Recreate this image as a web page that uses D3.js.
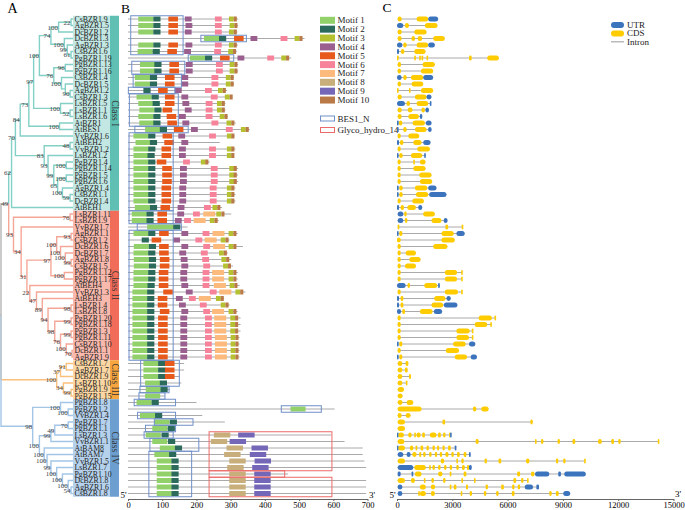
<!DOCTYPE html>
<html><head><meta charset="utf-8">
<script src="https://cdn.jsdelivr.net/npm/d3@7"></script>
<style>body{margin:0;background:#fff}svg text{font-family:"Liberation Serif","Times New Roman",serif}</style>
</head><body><svg id="c" width="685" height="510"></svg>
<script>
// ---------------- DATA ----------------
const genes = ["CsBZR1.9","AgBZR1.5","DcBZR1.2","DcBZR1.3","AgBZR1.3","CsBZR1.6","PgBZR1.19","PgBZR1.13","PgBZR1.16","CsBZR1.4","DcBZR1.5","AgBZR1.2","CsBZR1.3","LsBZR1.5","LsBZR1.1","LsBZR1.6","AtBZR1","AtBES1","VvBZR1.6","AtBEH2","VvBZR1.2","LsBZR1.2","PgBZR1.4","PgBZR1.14","PgBZR1.5","PgBZR1.6","AgBZR1.4","CsBZR1.1","DcBZR1.4","AtBEH1",
"LsBZR1.11","LsBZR1.9","VvBZR1.7","AgBZR1.1","CsBZR1.2","DcBZR1.6","DcBZR1.7","AgBZR1.8","CsBZR1.5","PgBZR1.12","PgBZR1.17","AtBEH4","VvBZR1.3","AtBEH3","LsBZR1.4","LsBZR1.8","PgBZR1.20","PgBZR1.18","PgBZR1.3","PgBZR1.11","CsBZR1.10","DcBZR1.1","AgBZR1.9",
"CsBZR1.7","AgBZR1.7","DcBZR1.9","LsBZR1.10","PgBZR1.9","PgBZR1.15",
"PgBZR1.8","PgBZR1.2","VvBZR1.4","PgBZR1.7","PgBZR1.1","LsBZR1.3","VvBZR1.1","AtBAM8","AtBAM7","VvBZR1.5","LsBZR1.7","PgBZR1.10","DcBZR1.8","AgBZR1.6","CsBZR1.8"];
const classNames = ["Class I","Class II","Class III","Class IV"];
const classSizes = [30,23,6,15];

// tree: T(depth, bootstrap, children); leaves = row numbers (1-based)
const T = (d,bs,c)=>({d,bs,c});
const treeData = T(0,null,[
  T(8,49,[
    T(11,62,[
      T(15,70,[
        T(20,84,[
          T(29,73,[
            T(34,97,[
              T(40,100,[
                T(52,74,[
                  T(60,100,[T(73,22,[1,2]),3]),
                  T(66,100,[4,T(69,99,[5,T(73,61,[6,7])])])
                ]),
                T(55,76,[
                  T(67,96,[8,9]),
                  T(63,100,[10,T(67,null,[11,T(72,90,[12,13])])])
                ])
              ]),
              T(62,100,[14,T(72,52,[15,16])])
            ]),
            T(61,100,[17,18])
          ]),
          19
        ]),
        T(45,83,[
          T(72,48,[20,21]),
          T(49,93,[22,T(55,99,[T(68,100,[23,24]),T(59,65,[T(68,100,[25,26]),T(64,100,[27,T(72,59,[28,29])])])])])
        ])
      ]),
      30
    ]),
    T(13,93,[
      T(72,76,[31,32]),
      T(21,34,[
        33,
        T(27,31,[
          T(52,97,[
            T(58,100,[T(73,93,[34,35]),T(62,100,[36,T(67,100,[37,T(73,99,[38,39])])])]),
            T(66,100,[40,41])
          ]),
          T(30,22,[42,T(37,47,[43,T(43,89,[44,T(49,94,[T(73,98,[45,46]),T(56,98,[T(73,99,[47,48]),T(62,76,[T(73,99,[49,50]),T(68,100,[51,T(74,70,[52,53])])])])])])])])
        ])
      ])
    ])
  ]),
  T(58,100,[T(62,37,[T(68,91,[54,55]),56]),T(65,34,[57,T(73,99,[58,59])])]),
  T(33,98,[
    T(62,100,[60,T(70,100,[61,62])]),
    T(40,100,[
      T(52,99,[T(56,49,[T(70,70,[63,64]),65]),66]),
      T(45,100,[67,T(48,100,[68,T(52,99,[69,T(58,100,[70,T(64,100,[71,T(70,100,[72,T(73,54,[73,74])])])])])])])
    ])
  ])
]);

// Panel B: protein lengths (aa) and motifs [motif, start(, length)]
const motifNames = ["Motif 1","Motif 2","Motif 3","Motif 4","Motif 5","Motif 6","Motif 7","Motif 8","Motif 9","Motif 10"];
const motifLen = [44,21,14,20,28,20,35,48,48,9];
const protLen = [322,322,320,516,322,318,477,322,322,310, 310,290,300,285,285,292,315,356,312,268,
 314,308,239,322,322,322,314,314,314,275, 302,265,174,321,297,336,292,302,307,321,
 321,326,343,281,297,320,329,329,329,326, 326,326,326,164,164,150,156,122,108,200,
 604,217,283,139,594,633,686,686,691,696, 468,696,696,696];
const mA = [[1,30],[2,74],[5,118],[4,166],[6,254],[3,295],[10,309]];
const mPg = [[1,35],[2,77],[5,121],[4,169],[6,257],[3,297],[10,311]];
const mCs4 = [[1,20],[2,64],[5,108],[4,156],[6,244],[3,286],[10,300]];
const mPg14 = [[1,16],[2,59],[5,100],[4,152],[6,242],[3,296],[10,309]];
const mAg4 = [[1,16],[2,59],[5,98],[4,150],[6,239],[3,289],[10,302]];
const mPg12 = [[1,16],[2,59],[5,90],[4,153],[6,218],[7,246],[3,294],[10,308]];
const mPg20 = [[1,13],[2,56],[5,88],[4,153],[6,225],[7,252],[3,299],[10,313]];
const mPg11 = [[1,13],[2,56],[5,88],[4,153],[6,225],[7,254],[3,300],[10,314]];
const mIII = [[1,45],[2,88],[5,108]];
const mIV = [[1,84],[2,127],[8,296],[9,369]];
const motifs = [
 mA,[[1,30],[2,74],[5,118],[4,168],[6,254],[3,297],[10,311]],mA,
 [[1,222],[2,266],[5,310],[4,358],[6,446],[3,487],[10,501]],
 [[1,30],[2,74],[5,118],[4,168],[6,254],[3,295],[10,309]],
 [[1,28],[2,72],[5,115],[4,164],[6,252],[3,293],[10,307]],
 [[1,181],[2,225],[5,269],[4,320],[6,407],[3,448],[10,462]],
 mPg,mPg,mCs4,mCs4,
 [[2,45],[5,88],[4,137],[6,225],[3,263],[10,277]],
 [[1,25],[2,69],[5,108],[4,156],[6,242],[3,283],[10,297]],
 [[1,30],[2,72],[5,108],[4,159],[6,227],[3,260],[10,274]],
 [[1,33],[2,77],[5,101],[4,166],[6,227],[3,260],[10,274]],
 [[1,30],[2,74],[5,113],[4,149],[6,227],[3,268],[10,282]],
 [[1,33],[2,74],[5,115],[4,159],[6,244],[3,288],[10,302]],
 [[1,50],[2,93],[5,134],[4,184],[6,286],[3,330],[10,344]],
 [[1,16],[2,59],[5,101],[4,147],[6,237],[3,289],[10,302]],
 [[1,22],[2,64],[5,106],[4,156]],
 [[1,16],[2,59],[5,98],[4,149],[6,237],[3,289],[10,302]],
 [[1,16],[2,57],[5,98],[4,149],[6,237],[3,289],[10,302]],
 [[1,16],[2,59],[5,84],[6,161],[3,213],[10,226]],
 mPg14,mPg14,mPg14,mAg4,mAg4,mAg4,
 [[1,20],[2,64],[5,95],[4,145],[6,222],[3,247],[10,261]],
 [[1,11],[2,54],[5,86],[4,144],[6,190],[7,220],[3,258],[10,273]],
 [[1,11],[2,54],[5,86],[4,137],[6,164],[7,192],[3,239],[10,253]],
 [[1,56,76],[2,132]],
 [[1,16],[2,59],[5,91],[4,156],[6,218],[7,247],[3,294],[10,308]],
 [[2,40],[5,69],[4,132],[6,197],[7,224],[3,271],[10,285]],
 [[1,17],[2,61],[5,91],[4,156],[6,220],[7,249],[3,294],[10,308]],
 [[1,16],[2,59],[5,91],[4,150],[6,213],[3,266],[10,280]],
 [[1,17],[2,61],[5,93],[4,154],[6,217],[3,273],[10,287]],
 [[1,17],[2,61],[5,93],[4,156],[6,220],[3,278],[10,292]],
 mPg12,mPg12,
 [[1,16],[2,57],[5,90],[4,156],[6,218],[7,251],[3,297],[10,311]],
 [[1,13],[2,56],[5,103],[4,169],[6,239],[7,267],[3,314],[10,328]],
 [[1,13],[2,56],[5,87],[4,140],[6,178],[7,207],[3,257],[10,271]],
 [[1,13],[2,56],[5,87],[4,149],[6,210],[3,271],[10,285]],
 [[1,13],[2,56],[5,93],[4,156],[6,220],[7,246],[3,294],[10,308]],
 mPg20,mPg20,mPg20,mPg11,mPg11,mPg11,mPg11,
 mIII,mIII,mIII,[[1,50],[2,93]],[[1,52],[2,95]],[[1,50]],
 [[1,25],[2,69]],[[1,475]],[[1,35],[2,79]],[[1,77],[2,122]],[[1,71],[2,116]],
 [[1,52],[2,98],[8,251],[9,322]],[[1,71],[2,117],[8,242],[9,297]],
 [[1,93],[2,137],[8,288],[9,361]],[[1,77],[2,120],[8,281],[9,356]],
 [[1,84],[2,127],[8,296],[9,370]],[[1,84],[2,127],[8,290],[9,363]],
 mIV,mIV,mIV,mIV
];
// domains: [firstRow, lastRow, start, end]
const domainNames = ["BES1_N","Glyco_hydro_14"];
const bes1 = [[1,6,8,161],[4,4,213,346],[7,7,176,309],[8,9,11,166],[10,11,15,156],[12,12,1,137],[13,17,4,147],[18,18,20,176],[19,30,3,132],[31,32,3,132],[33,33,27,156],[34,53,3,132],[54,57,37,150],[58,58,35,120],[59,59,32,108],[60,60,18,139],[61,61,448,565],[62,62,28,139],[63,63,77,190],[64,64,51,139],[65,65,47,132],[66,67,64,207],[68,74,61,186]];
const glyco = [[65,70,237,596],[71,71,237,458],[72,74,237,596]];
const bTicks = [0,100,200,300,400,500,600,700];

// Panel C: gene structures [type, start, end] (bp)
const structNames = ["UTR","CDS","Intron"];
const gs = [
[["C",36,252],["C",1062,1692],["U",1692,2232]],
[["U",0,342],["C",432,648],["C",1512,2196]],
[["C",36,252],["C",936,1602]],
[["C",36,252],["C",792,972],["C",1116,1368],["C",1962,2592]],
[["U",0,288],["C",342,522],["C",1062,1692],["U",1692,2052]],
[["U",0,108],["C",216,396],["C",936,1548]],
[["C",0,50],["C",936,990],["C",1206,1260],["C",1332,1386],["C",1602,1656],["C",3906,4050],["C",4896,5526]],
[["C",36,216],["C",1386,2052]],
[["C",36,216],["C",1296,1962]],
[["U",0,252],["C",342,522],["C",756,1422],["U",1422,1962]],
[["C",36,216],["C",792,1422]],
[["C",0,50],["C",648,702],["C",1296,1962]],
[["C",36,252],["C",972,1602],["U",1602,1872]],
[["U",0,432],["C",522,702],["C",1062,1692],["U",1782,1836]],
[["C",36,252],["C",576,846],["C",1332,1512],["U",1548,1728]],
[["C",36,252],["C",612,1188],["U",1242,1368]],
[["U",0,72],["C",108,288],["C",846,1512],["U",1566,1872]],
[["U",0,90],["C",342,522],["C",972,1602],["U",1692,1872]],
[["C",36,198],["C",612,1206]],
[["U",0,108],["C",162,342],["C",882,1332],["U",1422,1818]],
[["C",36,198],["C",1098,1782]],
[["U",0,72],["C",126,306],["C",756,1368],["U",1476,1548]],
[["C",36,198],["C",882,936],["C",1242,1548]],
[["C",36,198],["C",882,1548]],
[["C",36,198],["C",1206,1872]],
[["C",36,198],["C",1242,1908]],
[["U",0,72],["C",126,306],["C",972,1638],["U",1692,2142]],
[["U",0,72],["C",126,306],["C",1026,1692],["U",1746,2682]],
[["C",36,198],["C",828,1458]],
[["U",0,108],["C",198,378],["C",558,1026],["U",1152,1368]],
[["U",36,342],["C",396,522],["C",1422,2052]],
[["U",36,342],["C",432,558],["C",1872,2412],["U",2538,2736]],
[["C",36,126],["C",2628,2772],["C",3510,3560]],
[["U",0,72],["C",126,288],["C",2412,3078],["U",3222,3672]],
[["C",0,198],["C",2412,3132]],
[["C",36,198],["C",1962,2736]],
[["C",36,198],["C",468,1026]],
[["C",36,198],["C",666,1278]],
[["C",36,198],["C",432,1026]],
[["C",36,198],["C",2592,3258],["C",3480,3530]],
[["C",36,198],["C",2592,3258],["C",3480,3530]],
[["U",0,468],["C",576,702],["C",1476,2178],["U",2232,2322]],
[["C",36,198],["C",2592,3312],["C",3480,3530]],
[["U",0,108],["C",198,342],["C",2016,2628],["U",2682,2916]],
[["U",0,108],["C",198,342],["C",1872,2502],["U",2538,3276]],
[["U",0,216],["C",288,432],["C",1242,1926],["U",1998,2448]],
[["C",36,198],["C",4428,5148],["C",5290,5340]],
[["C",36,198],["C",4212,4896],["C",5060,5110]],
[["C",36,198],["C",3222,3942],["C",4060,4110]],
[["C",36,198],["C",3222,3906],["C",4060,4110]],
[["U",0,72],["C",126,288],["C",3042,3726],["U",3906,4248]],
[["C",36,198],["C",2646,3366]],
[["U",0,72],["C",126,288],["C",3132,3798],["U",3996,4338]],
[["C",36,288],["C",468,612]],
[["C",36,288],["C",432,576]],
[["C",36,288],["C",648,756]],
[["C",36,288],["C",480,530]],
[["C",36,378]],
[["C",36,306]],
[["C",36,306],["C",522,882]],
[["C",36,1332],["C",4122,4302],["C",4572,4968]],
[["C",36,252],["C",468,738]],
[["C",36,432],["C",2466,2610],["C",7236,7362]],
[["C",36,432]],
[["U",0,36],["C",72,378],["C",612,792],["C",936,990],["C",1062,1278],["C",1368,1512],["C",1782,2142],["C",2232,2376],["C",2502,2628],["C",2826,2880],["U",2880,2916]],
[["C",36,396],["C",4266,4428],["C",7488,7540],["C",7812,7938],["C",8712,8838],["C",9522,9666],["C",10908,11106],["C",11628,11772],["C",12006,12132],["C",14148,14200]],
[["U",0,36],["C",72,432],["C",702,882],["C",1008,1098],["C",1278,1422],["C",1602,1728],["C",1926,2052],["C",2178,2286],["C",2466,2592],["C",2772,2916],["U",3132,3222]],
[["U",36,342],["U",522,738],["C",828,1062],["C",1206,1314],["C",1422,1548],["C",1746,1872],["C",2052,2178],["C",2322,2448],["C",2628,2790],["C",2952,3078],["C",3258,3402],["C",3618,3762],["U",3906,3996]],
[["C",36,432],["C",2376,2556],["C",3222,3270],["C",3492,3618],["C",4752,4878],["C",5508,5652],["C",7002,7182],["C",8622,8748],["C",9018,9144],["C",10152,10200]],
[["U",36,882],["C",936,1566],["C",1746,1800],["C",1926,2052],["C",2232,2358],["C",2556,2682],["C",2862,2988],["C",3222,3348],["C",3528,3672],["C",3798,3906],["U",3906,4050]],
[["U",36,198],["U",792,882],["C",972,1332],["C",2232,2466],["C",2862,2910],["C",3618,3762],["C",6516,6678],["C",7272,7452],["U",7488,8262],["U",8748,8892],["U",9072,10242]],
[["C",36,432],["C",756,972],["C",1458,1510],["C",1872,1998],["C",2502,2628],["C",3492,3582],["C",4176,4230],["C",6318,6462],["C",6732,6858],["C",7056,7100]],
[["U",36,288],["C",1242,1566],["C",1836,2070],["C",2862,2910],["C",3078,3222],["C",3744,3852],["C",4806,4932],["C",5652,5796],["C",6246,6372],["C",6552,6678],["U",6930,7380],["U",7560,7704]],
[["U",36,288],["C",1152,1206],["C",1242,1566],["C",1836,2052],["C",3456,3510],["C",3942,4068],["C",4716,4842],["C",5382,5508],["C",6228,6372],["C",8262,8388],["C",8622,8766],["U",9018,9396]]
];
const cTicks = [0,3000,6000,9000,12000,15000];

// ---------------- STYLE ----------------
const barCol = ["#5fbfb2","#f26c5a","#f7a53f","#6c9fd0"];
const lightCol = ["#c3e7e2","#f9b9ad","#fdd7a3","#b5d1ec"];
const lineCol = ["#83d0c6","#f5a797","#fbc07c","#a3c6e7"];
const grayLine = "#b5b5b5";
const motifCol = ["#92d16a","#2c6b5c","#b6c132","#9a5f8e","#e85a1c","#f7839b","#fcba7c","#c8ae7a","#7567b8","#b97a48"];
const domCol = ["#6f8fc8","#ec6a6a"];
const utrCol = "#3b74bd", cdsCol = "#ffcc00", intronCol = "#aaaaaa";

const svg = d3.select("#c");
const classIdx = [];
classSizes.forEach((n,k)=>{ for(let i=0;i<n;i++) classIdx.push(k); });
const yRow = d3.scalePoint().domain(d3.range(genes.length)).range([19, 493.5]);
const half = 3.25;

// ---------------- PANEL A ----------------
const LEAF = 75;
const tx = d3.scaleLinear().domain([0, LEAF]).range([1, 73]);
let start = 0;
classSizes.forEach((n,k)=>{
  const y0 = yRow(start)-half, y1 = yRow(start+n-1)+half;
  svg.append("rect").attr("x",tx(LEAF)).attr("y",y0).attr("width",110-tx(LEAF)).attr("height",y1-y0).attr("fill",lightCol[k]);
  svg.append("rect").attr("x",110).attr("y",y0).attr("width",9).attr("height",y1-y0).attr("fill",barCol[k]);
  const cy=(y0+y1)/2;
  svg.append("text").attr("transform",`translate(114.5,${cy}) rotate(90)`).attr("text-anchor","middle")
    .attr("dominant-baseline","central").attr("font-size",9.5).attr("fill","#333").text(classNames[k]);
  start += n;
});
function lay(n){
  if (typeof n === "number"){ const i=n-1; return {x:tx(LEAF), y:yRow(i), cls:classIdx[i], leaf:true, i}; }
  const kids = n.c.map(lay);
  const o = {x:tx(n.d), y:(kids[0].y+kids[kids.length-1].y)/2, bs:n.bs, kids};
  o.cls = kids.every(k=>k.cls===kids[0].cls) ? kids[0].cls : -1;
  return o;
}
const root = lay(treeData);
const gTree = svg.append("g").attr("fill","none").attr("stroke-width",1.4);
const gBs = svg.append("g");
function drawNode(o){
  if (o.leaf) return;
  o.kids.forEach(k=>{
    const col = k.cls>=0 ? lineCol[k.cls] : grayLine;
    gTree.append("path").attr("d",`M${o.x},${o.y}V${k.y}H${k.x}`).attr("stroke",col);
    drawNode(k);
  });
  if (o.bs!=null) gBs.append("text").attr("x",o.x-0.5).attr("y",o.y+2.4).attr("text-anchor","end")
     .attr("font-size",7).attr("fill","#444").text(o.bs);
}
drawNode(root);
gTree.append("path").attr("d",`M0,${root.y}H${root.x}`).attr("stroke",grayLine);
svg.append("g").selectAll("text").data(genes).join("text")
  .attr("x",74.5).attr("y",(d,i)=>yRow(i)+2.7).attr("font-size",7.8).attr("fill","#222").text(d=>d);

// ---------------- PANEL B ----------------
const xB = d3.scaleLinear().domain([0,700]).range([128,367.5]);
const gB = svg.append("g");
genes.forEach((g,i)=>{
  const y=yRow(i);
  gB.append("line").attr("x1",xB(0)).attr("x2",xB(protLen[i])).attr("y1",y).attr("y2",y).attr("stroke","#aaa").attr("stroke-width",1);
  motifs[i].forEach(m=>{
    const L = m[2]||motifLen[m[0]-1];
    gB.append("rect").attr("x",xB(m[1])).attr("y",y-2.5).attr("width",xB(m[1]+L)-xB(m[1])).attr("height",5).attr("fill",motifCol[m[0]-1]);
  });
});
[bes1,glyco].forEach((arr,k)=>{
  arr.forEach(d=>{
    const y0=yRow(d[0]-1)-half, y1=yRow(d[1]-1)+half;
    gB.append("rect").attr("x",xB(d[2])).attr("y",y0).attr("width",xB(d[3])-xB(d[2])).attr("height",y1-y0)
      .attr("fill","none").attr("stroke",domCol[k]).attr("stroke-width",1);
  });
});
const axB = svg.append("g").attr("transform","translate(0,499)")
  .call(d3.axisBottom(xB).tickValues(bTicks).tickFormat(d3.format("d")).tickSize(2).tickSizeOuter(0).tickPadding(1));
axB.attr("font-family","Liberation Serif, serif").attr("font-size",8.5);
axB.selectAll("path,line").attr("stroke","#666");
svg.append("text").attr("x",126.5).attr("y",498).attr("text-anchor","end").attr("font-size",9).text("5'");
svg.append("text").attr("x",369).attr("y",498).attr("font-size",9).text("3'");
// motif legend
motifNames.forEach((m,i)=>{
  const y=20.3+i*8.86;
  svg.append("rect").attr("x",320).attr("y",y-3.5).attr("width",15).attr("height",7).attr("fill",motifCol[i]);
  svg.append("text").attr("x",337.5).attr("y",y+3).attr("font-size",9).attr("fill","#222").text(m);
});
domainNames.forEach((m,i)=>{
  const y=118.5+i*11.5;
  svg.append("rect").attr("x",320.5).attr("y",y-2.5).attr("width",14).attr("height",5).attr("fill","none").attr("stroke",domCol[i]);
  svg.append("text").attr("x",337.5).attr("y",y+3).attr("font-size",9).attr("fill","#222").text(m);
});

// ---------------- PANEL C ----------------
const xC = d3.scaleLinear().domain([0,15000]).range([397,673.5]);
const gC = svg.append("g");
gs.forEach((segs,i)=>{
  const y=yRow(i);
  const s0=d3.min(segs,d=>d[1]), s1=d3.max(segs,d=>d[2]);
  gC.append("line").attr("x1",xC(s0)).attr("x2",xC(s1)).attr("y1",y).attr("y2",y).attr("stroke",intronCol).attr("stroke-width",1);
  segs.forEach(d=>{
    const w=Math.max(1.6,xC(d[2])-xC(d[1]));
    gC.append("rect").attr("x",xC(d[1])).attr("y",y-2.5).attr("width",w).attr("height",5)
      .attr("rx",Math.min(2.5,w/2)).attr("fill",d[0]==="U"?utrCol:cdsCol);
  });
});
const axC = svg.append("g").attr("transform","translate(0,499)")
  .call(d3.axisBottom(xC).tickValues(cTicks).tickFormat(d3.format("d")).tickSize(2).tickSizeOuter(0).tickPadding(1));
axC.attr("font-family","Liberation Serif, serif").attr("font-size",8.5);
axC.selectAll("path,line").attr("stroke","#666");
svg.append("text").attr("x",395.5).attr("y",498).attr("text-anchor","end").attr("font-size",9).text("5'");
svg.append("text").attr("x",675).attr("y",497).attr("font-size",9).text("3'");
// legend C
structNames.forEach((m,i)=>{
  const y=25+i*8.4;
  if (i<2) svg.append("rect").attr("x",611).attr("y",y-3).attr("width",13).attr("height",6).attr("rx",3).attr("fill",i===0?utrCol:cdsCol);
  else svg.append("line").attr("x1",611).attr("x2",624).attr("y1",y).attr("y2",y).attr("stroke",intronCol).attr("stroke-width",1.2);
  svg.append("text").attr("x",627).attr("y",y+3).attr("font-size",9).attr("fill","#222").text(m);
});

// panel letters
svg.append("text").attr("x",7.5).attr("y",13.3).attr("font-size",14).text("A");
svg.append("text").attr("x",121).attr("y",12.8).attr("font-size",13.5).text("B");
svg.append("text").attr("x",382.5).attr("y",11.8).attr("font-size",13.5).text("C");
</script></body></html>
